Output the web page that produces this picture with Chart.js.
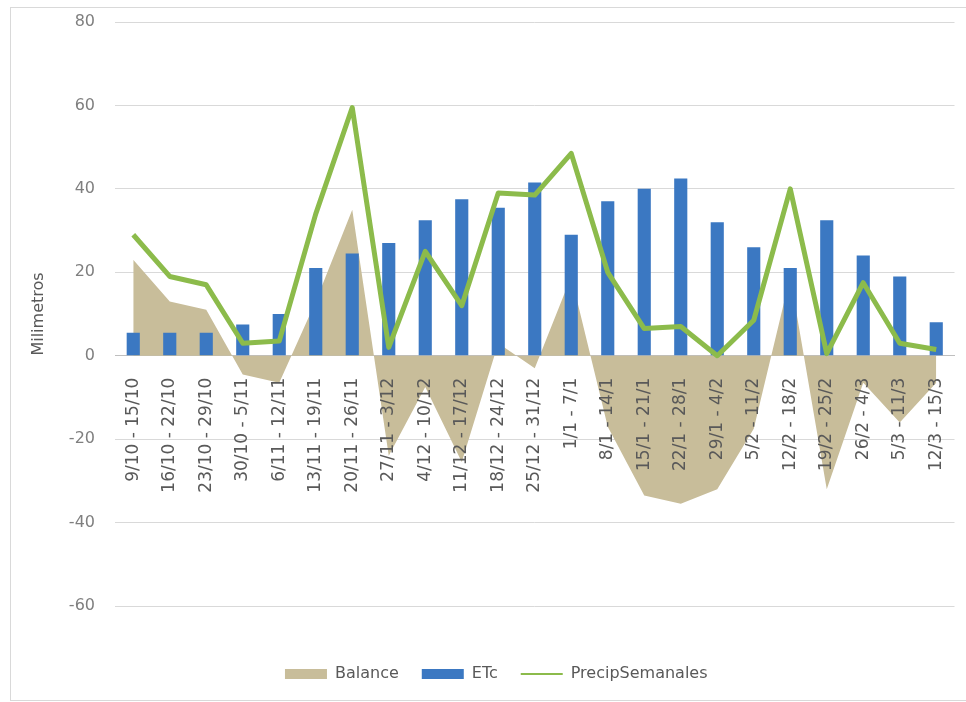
<!DOCTYPE html>
<html>
<head>
<meta charset="utf-8">
<script src="https://cdn.jsdelivr.net/npm/chart.js@4/dist/chart.umd.min.js"></script>
<style>
    html, body { margin: 0; padding: 0; background: #fff; overflow: hidden; }
    #frame {
        position: absolute; left: 10px; top: 7px;
        width: 970px; height: 692px;
        border: 1px solid #d9d9d9;
    }
    #wrap { position: absolute; left: 0; top: 0; width: 966px; height: 702px; }
</style>
</head>
<body>
<div id="frame"></div>
<div id="wrap"><canvas id="balance-chart"></canvas></div>
<script>
// Weekly water balance
const weeks = [
    '9/10 - 15/10', '16/10 - 22/10', '23/10 - 29/10', '30/10 - 5/11', '6/11 - 12/11',
    '13/11 - 19/11', '20/11 - 26/11', '27/11 - 3/12', '4/12 - 10/12', '11/12 - 17/12',
    '18/12 - 24/12', '25/12 - 31/12', '1/1 - 7/1', '8/1 - 14/1', '15/1 - 21/1',
    '22/1 - 28/1', '29/1 - 4/2', '5/2 - 11/2', '12/2 - 18/2', '19/2 - 25/2',
    '26/2 - 4/3', '5/3 - 11/3', '12/3 - 15/3'
];
const balance = [23, 13, 11, -4.5, -6.5, 13, 35, -24, -7.5, -25.5, 3, -3, 19, -17, -33.5, -35.5, -32, -17.5, 19, -32, -6.5, -16, -6.5];
const etc = [5.5, 5.5, 5.5, 7.5, 10, 21, 24.5, 27, 32.5, 37.5, 35.5, 41.5, 29, 37, 40, 42.5, 32, 26, 21, 32.5, 24, 19, 8];
const precip = [29, 19, 17, 3, 3.5, 34, 59.5, 2, 25, 12, 39, 38.5, 48.5, 20, 6.5, 7, 0, 8.5, 40, 0.5, 17.5, 3, 1.5];
const yTicks = [-60, -40, -20, 0, 20, 40, 60, 80];

const FONT = 'DejaVu Sans';
const TAN = '#C8BD9A';
const BLUE = '#3B78C2';
const GREEN = '#8CBB4B';

// nudge the legend to where Excel put it
const legendShift = {
    id: 'legendShift',
    afterLayout(chart) {
        chart.legend.left += 14;
        chart.legend.right += 14;
    }
};

new Chart(document.getElementById('balance-chart'), {
    type: 'bar',
    data: {
        labels: weeks,
        datasets: [
            {
                type: 'line',
                label: 'Balance',
                data: balance,
                fill: 'origin',
                backgroundColor: TAN,
                borderColor: 'rgba(0,0,0,0)',
                borderWidth: 0,
                pointRadius: 0,
                tension: 0,
                order: 3
            },
            {
                type: 'bar',
                label: 'ETc',
                data: etc,
                backgroundColor: BLUE,
                barPercentage: 0.36,
                categoryPercentage: 1,
                order: 2
            },
            {
                type: 'line',
                label: 'PrecipSemanales',
                data: precip,
                fill: false,
                borderColor: GREEN,
                borderWidth: 5,
                borderJoinStyle: 'round',
                pointRadius: 0,
                tension: 0,
                order: 1
            }
        ]
    },
    options: {
        responsive: true,
        maintainAspectRatio: false,
        animation: false,
        layout: {
            padding: { left: 10, right: 11.5, top: 22, bottom: 10 }
        },
        plugins: {
            tooltip: { enabled: false },
            legend: {
                display: true,
                position: 'bottom',
                labels: {
                    usePointStyle: true,
                    pointStyleWidth: 42,
                    boxHeight: 10,
                    padding: 23,
                    color: '#595959',
                    font: { family: FONT, size: 16 },
                    sort: (a, b) => a.datasetIndex - b.datasetIndex,
                    generateLabels(chart) {
                        const items = Chart.defaults.plugins.legend.labels.generateLabels(chart);
                        const styles = ['rect', 'rect', 'line'];
                        const colors = [TAN, BLUE, GREEN];
                        items.forEach(item => {
                            const i = item.datasetIndex;
                            item.pointStyle = styles[i];
                            item.fillStyle = colors[i];
                            item.strokeStyle = colors[i];
                            item.lineWidth = styles[i] === 'line' ? 2 : 0;
                        });
                        return items;
                    }
                }
            }
        },
        scales: {
            x: {
                position: { y: 0 },
                offset: true,
                afterFit(scale) {
                    scale.paddingLeft = 0;
                    scale.paddingRight = 0;
                    scale.paddingTop = 0;
                    scale.paddingBottom = 0;
                },
                grid: { display: false, drawTicks: false },
                border: { display: true, color: '#BFBFBF' },
                ticks: {
                    z: 1, // labels sit on top of the area fill
                    autoSkip: false,
                    minRotation: 90,
                    maxRotation: 90,
                    padding: 22,
                    color: '#595959',
                    font: { family: FONT, size: 17 }
                }
            },
            // empty strip that keeps the legend away from the plot
            xPad: {
                type: 'category',
                position: 'bottom',
                grid: { display: false },
                border: { display: false },
                ticks: { display: false },
                afterFit(scale) { scale.height = 37; }
            },
            y: {
                min: -60,
                max: 80,
                afterBuildTicks(scale) {
                    scale.ticks = yTicks.map(v => ({ value: v }));
                },
                afterFit(scale) {
                    scale.width = 105;
                    scale.paddingTop = 0;
                    scale.paddingBottom = 0;
                },
                grid: { color: '#D9D9D9', drawTicks: false },
                border: { display: false },
                ticks: {
                    padding: 20,
                    color: '#7F7F7F',
                    font: { family: FONT, size: 16 }
                },
                title: {
                    display: true,
                    text: 'Milimetros',
                    color: '#595959',
                    font: { family: FONT, size: 16 },
                    padding: { top: 19, bottom: 0 }
                }
            }
        }
    },
    plugins: [legendShift]
});
</script>
</body>
</html>
